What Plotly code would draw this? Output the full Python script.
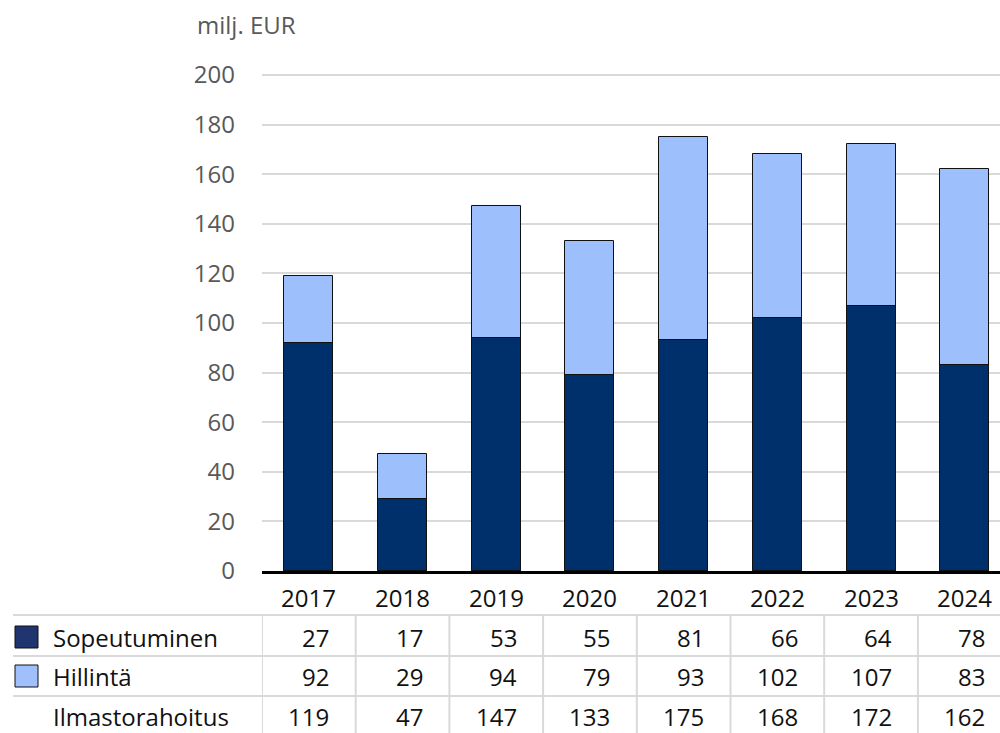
import plotly.graph_objects as go

years = ["2017", "2018", "2019", "2020", "2021", "2022", "2023", "2024"]
sopeutuminen = [27, 17, 53, 55, 81, 66, 64, 78]
hillinta = [92, 29, 94, 79, 93, 102, 107, 83]
ilmastorahoitus = [119, 47, 147, 133, 175, 168, 172, 162]
y_ticks = [0, 20, 40, 60, 80, 100, 120, 140, 160, 180, 200]

DARK = "#00306c"
LIGHT = "#9dbffb"
FONT = "Open Sans"
FS = 24
GRID = "#d9d9d9"

W, H = 1000, 733
L, R, T, B = 262, 0, 73, 162
PW = W - L - R
PH = H - T - B
Y_MAX = 200.8
X0_PX = L  # left edge of plot
Y0_PX = H - B  # bottom of plot


def px2paper_x(px):
    return (px - X0_PX) / PW


def px2paper_y(py):
    return (Y0_PX - py) / PH


xs = list(range(len(years)))

fig = go.Figure()
# Bars as drawn in the reference: full (total) light bar, dark segment at the bottom
fig.add_trace(go.Bar(x=xs, y=ilmastorahoitus, marker=dict(color=LIGHT, line=dict(color="#111111", width=1)),
                     width=0.523, showlegend=False, hoverinfo="skip"))
fig.add_trace(go.Bar(x=xs, y=hillinta, marker=dict(color=DARK, line=dict(color="#111111", width=1)),
                     width=0.523, showlegend=False, hoverinfo="skip"))

shapes = []
annotations = []

# unit label
annotations.append(dict(text="milj. EUR", xref="paper", yref="paper", x=px2paper_x(195), y=px2paper_y(25),
                        xanchor="left", yanchor="middle", showarrow=False,
                        font=dict(family=FONT, size=FS, color="#595959")))

# year labels
for i, yr in enumerate(years):
    annotations.append(dict(text=yr, xref="x", yref="paper", x=i, y=px2paper_y(597),
                            xanchor="center", yanchor="middle", showarrow=False,
                            font=dict(family=FONT, size=FS, color="#111111")))

# table horizontal lines
for py in [615, 656, 696]:
    shapes.append(dict(type="line", xref="paper", yref="paper", x0=px2paper_x(13), x1=1,
                       y0=px2paper_y(py), y1=px2paper_y(py), line=dict(color=GRID, width=2)))
# table vertical lines
for i in range(len(years)):
    shapes.append(dict(type="line", xref="x", yref="paper", x0=i - 0.5, x1=i - 0.5,
                       y0=px2paper_y(615), y1=px2paper_y(733), line=dict(color=GRID, width=2)))

rows = [("Sopeutuminen", sopeutuminen, 637, "#20356f"),
        ("Hillintä", hillinta, 676, "#a0c0fb"),
        ("Ilmastorahoitus", ilmastorahoitus, 716, None)]
for label, vals, py, sq in rows:
    if sq:
        shapes.append(dict(type="rect", xref="paper", yref="paper",
                           x0=px2paper_x(15), x1=px2paper_x(38),
                           y0=px2paper_y(py - 11), y1=px2paper_y(py + 11),
                           fillcolor=sq, line=dict(color="#111111", width=1)))
    annotations.append(dict(text=label, xref="paper", yref="paper", x=px2paper_x(51), y=px2paper_y(py),
                            xanchor="left", yanchor="middle", showarrow=False,
                            font=dict(family=FONT, size=FS, color="#111111")))
    for i, v in enumerate(vals):
        annotations.append(dict(text=str(v), xref="x", yref="paper", x=i + 0.24, y=px2paper_y(py),
                                xanchor="right", yanchor="middle", showarrow=False,
                                font=dict(family=FONT, size=FS, color="#111111")))

fig.update_layout(
    width=W, height=H,
    margin=dict(l=L, r=R, t=T, b=B),
    barmode="overlay",
    bargap=0,
    plot_bgcolor="white", paper_bgcolor="white",
    font=dict(family=FONT, size=FS, color="#111111"),
    xaxis=dict(range=[-0.5, (W - L - R) / 93.7 - 0.5], showticklabels=False, showgrid=False,
               zeroline=False, showline=True, linecolor="black", linewidth=3, ticks=""),
    yaxis=dict(range=[0, Y_MAX], tickvals=y_ticks, showgrid=True, gridcolor=GRID, gridwidth=2,
               zeroline=False, showline=False, ticks="", ticklabelstandoff=26,
               tickfont=dict(family=FONT, size=FS, color="#595959")),
    shapes=shapes,
    annotations=annotations,
)

fig.write_html("out.html", config={"displayModeBar": False},
               post_script="document.body.style.margin='0';document.body.style.overflow='hidden';")
